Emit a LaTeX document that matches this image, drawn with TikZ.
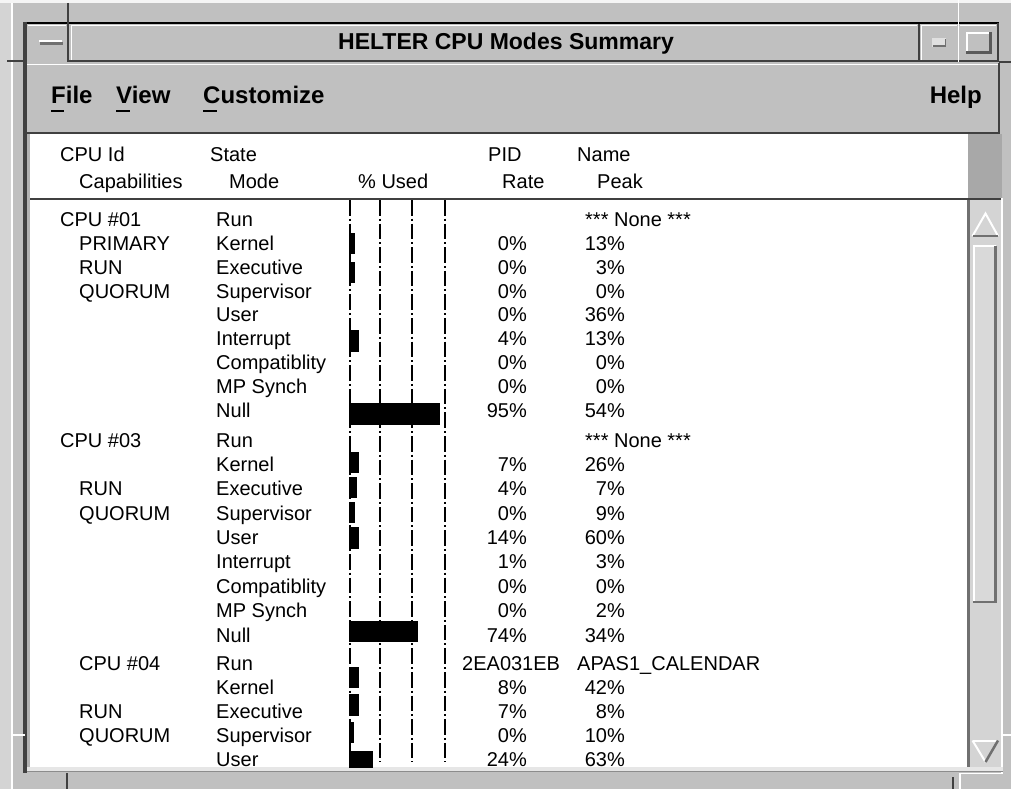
\documentclass[tikz,border=0pt]{standalone}
\usepackage{fontspec}
\setmainfont{Liberation Sans}
\definecolor{frame}{HTML}{C0C0C0}
\definecolor{shadow}{HTML}{707070}
\definecolor{dark}{HTML}{404040}
\definecolor{trough}{HTML}{D4D4D4}
\definecolor{hdrgray}{HTML}{A8A8A8}
\definecolor{light}{HTML}{E6E6E6}
\definecolor{outer}{HTML}{D4D4D4}
\begin{document}
\begin{tikzpicture}[x=1pt,y=-1pt,
  body/.style={anchor=base west,inner sep=0pt,font=\fontsize{20}{24}\selectfont},
  bodyr/.style={anchor=base east,inner sep=0pt,font=\fontsize{20}{24}\selectfont},
  menu/.style={anchor=base west,inner sep=0pt,font=\fontsize{24}{28}\selectfont\bfseries},
  ttl/.style={anchor=base,inner sep=0pt,font=\fontsize{23}{28}\selectfont\bfseries},
  bar/.style={fill=black},
  gridline/.style={line width=2.2pt,dash pattern=on 15.6pt off 3pt on 2pt off 3pt},
  hi/.style={draw=white,line width=1.5pt},
  lo/.style={draw=shadow,line width=1.5pt},
  uline/.style={line width=2.4pt},
]
\useasboundingbox (0,0) rectangle (1011,789);
% ---------- frame ----------
\fill[frame] (0,0) rectangle (1011,789);
\fill[white!96!black] (0,0) rectangle (1011,3);
\fill[outer] (0,3) rectangle (11,789);
\draw[white,line width=1.2pt] (12,3) -- (12,789);
% title bar
\fill[frame] (25,23) rectangle (999,62);
\draw[black,line width=2pt] (25,23) -- (999,23);
\draw[dark,line width=3.5pt] (25,22) -- (25,773);
% window-menu button
\draw[dark,line width=2.5pt] (68,3) -- (68,62);
\draw[hi] (28,25.5) -- (66,25.5);
\fill[white] (39,40) rectangle (62,42.5);
\fill[shadow] (40,42.5) rectangle (63,45);
% title area
\draw[hi] (71,25.5) -- (917,25.5);
\draw[hi] (71.5,25) -- (71.5,60);
\draw[dark,line width=2pt] (68,61) -- (999,61);
\draw[dark,line width=2.2pt] (919,24) -- (919,62);
\node[ttl] (title) at (506,50) {HELTER CPU Modes Summary};
% minimize / maximize
\draw[white,line width=1.5pt] (958.5,0) -- (958.5,62);
\draw[hi] (921.5,25) -- (921.5,60);
\draw[hi] (921,25.5) -- (957,25.5);
\fill[white!88!black] (932,38) rectangle (945.5,47);
\fill[shadow] (933,45.5) rectangle (946,47.5);
\fill[shadow] (944.5,39) rectangle (946,47.5);
\draw[hi] (960,25.5) -- (996,25.5);
\draw[dark,line width=2pt] (998,23) -- (998,62);
\draw[white,line width=2pt] (967,33) -- (990,33);
\draw[white,line width=2pt] (967,32) -- (967,53);
\draw[dark!80!frame,line width=3pt] (966,52.5) -- (992,52.5);
\draw[dark!80!frame,line width=3pt] (990.5,32) -- (990.5,54);
% resize corner marks
\draw[dark,line width=2.2pt] (7,61) -- (25,61);
\draw[dark,line width=2pt] (999,62) -- (1011,62);
\draw[white,line width=1.5pt] (12,735) -- (25,735);
\draw[dark,line width=2.5pt] (67,773) -- (67,789);
\draw[white,line width=1.5pt] (1003,735) -- (1011,735);
\draw[dark,line width=2.5pt] (953,777) -- (953,789);
\draw[white,line width=1.5pt] (960,789) -- (960,773.5) -- (1003,773.5);
% ---------- menu bar ----------
\fill[frame] (27,63) rectangle (999,132);
\draw[white,line width=1.5pt] (27,64.5) -- (998,64.5);
\draw[dark,line width=2.5pt] (999,63) -- (999,133);
\draw[dark,line width=2.2pt] (27,132.8) -- (1000,132.8);
\node[menu] (mfile) at (51,103) {File};
\node[menu] (mview) at (116,103) {View};
\node[menu] (mcust) at (203,103) {Customize};
\node[menu,anchor=base east] (mhelp) at (982,103) {Help};
\draw[uline] (51,111) -- (64,111);
\draw[uline] (116,111) -- (130,111);
\draw[uline] (203,111) -- (217,111);
% ---------- content ----------
\fill[white] (27,134) rectangle (1001,767);
\fill[black!30!white] (27,134) rectangle (30,767);
\fill[hdrgray] (968,134) rectangle (1002,198);
\draw[dark,line width=1.6pt] (30,199) -- (1002,199);
\fill[trough] (968,200) rectangle (1001,767);
\draw[shadow,line width=3pt] (968.5,200) -- (968.5,767);
\draw[white,line width=2pt] (1002,198) -- (1002,773);
\fill[light] (27,767) rectangle (1003,770.5);
\draw[black!45!white,line width=1.6pt] (27,771.5) -- (1003,771.5);
% scrollbar arrows and slider
\draw[white,line width=2pt,line join=miter] (972.5,236) -- (985.5,213.5) -- (998,236);
\draw[shadow,line width=2pt] (973,236) -- (998,236);
\fill[white!85!black] (973,245) rectangle (997,603);
\draw[white,line width=2pt] (974,603) -- (974,246) -- (996,246);
\draw[shadow,line width=2.5pt] (995.5,246) -- (995.5,602) -- (973,602);
\draw[white,line width=2pt] (972.5,740.5) -- (998,740.5);
\draw[white,line width=2pt] (972.5,740.5) -- (985.5,762);
\draw[shadow,line width=2.5pt] (998,740.5) -- (985.5,762);
% header texts
\node[body] (hcpu) at (60,161) {CPU Id};
\node[body] (hcap) at (79,188.5) {Capabilities};
\node[body] (hstate) at (210,161) {State};
\node[body] (hmode) at (229,188.5) {Mode};
\node[body] (hused) at (358,188.5) {\% Used};
\node[body] (hpid) at (488,161) {PID};
\node[body] (hrate) at (502,188.5) {Rate};
\node[body] (hname) at (577,161) {Name};
\node[body] (hpeak) at (597,188.5) {Peak};
% data region
\begin{scope}
\clip (30,200) rectangle (967,767);
% bars
\fill[bar] (349,233) rectangle (355,254);
\fill[bar] (349,262) rectangle (355,283);
\fill[bar] (349,330) rectangle (359,352);
\fill[bar] (349,403) rectangle (440,425);
\fill[bar] (349,452) rectangle (359,473);
\fill[bar] (349,477) rectangle (357,498);
\fill[bar] (349,502) rectangle (355,523);
\fill[bar] (349,527) rectangle (359,549);
\fill[bar] (349,621) rectangle (418,642);
\fill[bar] (349,667) rectangle (359,688);
\fill[bar] (349,694) rectangle (359,716);
\fill[bar] (349,722) rectangle (354,743);
\fill[bar] (349,751) rectangle (373,772);
% grid lines
\draw[gridline] (350,200) -- (350,767);
\draw[gridline] (380,200) -- (380,762);
\draw[gridline] (412,200) -- (412,762);
\draw[gridline] (445,200) -- (445,762);
% block 1
\node[body] (c1) at (60,226.7) {CPU \#01};
\node[body] (c1a) at (79,250.5) {PRIMARY};
\node[body] (c1b) at (79,274.3) {RUN};
\node[body] (c1c) at (79,298.1) {QUORUM};
\foreach \t/\y [count=\i] in {Run/226.7,Kernel/250.5,Executive/274.3,Supervisor/298.1,User/321.9,Interrupt/345.7,Compatiblity/369.5,MP Synch/393.3,Null/417}
  \node[body] (ma\i) at (216,\y) {\t};
\foreach \t/\y [count=\i] in {0\%/250.5,0\%/274.3,0\%/298.1,0\%/321.9,4\%/345.7,0\%/369.5,0\%/393.3,95\%/417}
  \node[bodyr] (ra\i) at (527,\y) {\t};
\node[body] (pa0) at (585,226.7) {*** None ***};
\foreach \t/\y [count=\i] in {13\%/250.5,3\%/274.3,0\%/298.1,36\%/321.9,13\%/345.7,0\%/369.5,0\%/393.3,54\%/417}
  \node[bodyr] (pa\i) at (625,\y) {\t};
% block 2
\node[body] (c3) at (60,447) {CPU \#03};
\node[body] (c3b) at (79,495.8) {RUN};
\node[body] (c3c) at (79,520.1) {QUORUM};
\foreach \t/\y [count=\i] in {Run/447,Kernel/471.4,Executive/495.8,Supervisor/520.1,User/544.5,Interrupt/568.9,Compatiblity/593.3,MP Synch/617.7,Null/642}
  \node[body] (mb\i) at (216,\y) {\t};
\foreach \t/\y [count=\i] in {7\%/471.4,4\%/495.8,0\%/520.1,14\%/544.5,1\%/568.9,0\%/593.3,0\%/617.7,74\%/642}
  \node[bodyr] (rb\i) at (527,\y) {\t};
\node[body] (pb0) at (585,447) {*** None ***};
\foreach \t/\y [count=\i] in {26\%/471.4,7\%/495.8,9\%/520.1,60\%/544.5,3\%/568.9,0\%/593.3,2\%/617.7,34\%/642}
  \node[bodyr] (pb\i) at (625,\y) {\t};
% block 3
\node[body] (c4) at (79,670) {CPU \#04};
\node[body] (c4b) at (79,718) {RUN};
\node[body] (c4c) at (79,742) {QUORUM};
\foreach \t/\y [count=\i] in {Run/670,Kernel/694,Executive/718,Supervisor/742,User/766}
  \node[body] (mc\i) at (216,\y) {\t};
\node[body] (rc0) at (462,670) {2EA031EB};
\foreach \t/\y [count=\i] in {8\%/694,7\%/718,0\%/742,24\%/766}
  \node[bodyr] (rc\i) at (527,\y) {\t};
\node[body] (pc0) at (577,670) {APAS1\_CALENDAR};
\foreach \t/\y [count=\i] in {42\%/694,8\%/718,10\%/742,63\%/766}
  \node[bodyr] (pc\i) at (625,\y) {\t};
\end{scope}
\end{tikzpicture}
\end{document}
